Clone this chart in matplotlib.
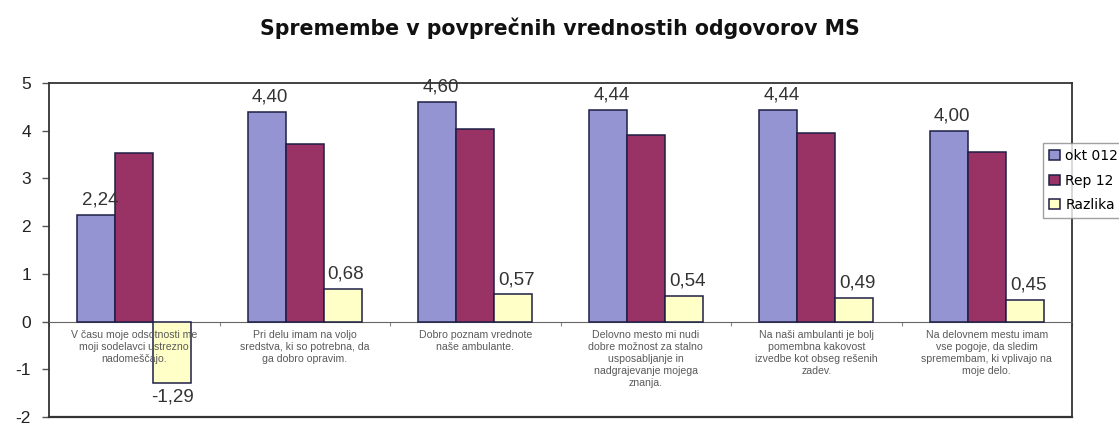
import matplotlib
matplotlib.use("Agg")
import matplotlib.pyplot as plt
import numpy as np

categories = [
    "V času moje odsotnosti me\nmoji sodelavci ustrezno\nnadomeščajo.",
    "Pri delu imam na voljo\nsredstva, ki so potrebna, da\nga dobro opravim.",
    "Dobro poznam vrednote\nnaše ambulante.",
    "Delovno mesto mi nudi\ndobre možnost za stalno\nusposabljanje in\nnadgrajevanje mojega\nznanja.",
    "Na naši ambulanti je bolj\npomembna kakovost\nizvedbe kot obseg rešenih\nzadev.",
    "Na delovnem mestu imam\nvse pogoje, da sledim\nspremembam, ki vplivajo na\nmoje delo.",
]
series_names = ["okt 012", "Rep 12", "Razlika"]
okt = [2.24, 4.40, 4.60, 4.44, 4.44, 4.00]
rep = [3.53, 3.72, 4.03, 3.90, 3.95, 3.55]
razlika = [-1.29, 0.68, 0.57, 0.54, 0.49, 0.45]
y_ticks = [-2, -1, 0, 1, 2, 3, 4, 5]

colors = ["#9494d2", "#993366", "#ffffc8"]
edge = "#1e1e46"

plt.rcParams["font.family"] = ["Liberation Sans", "DejaVu Sans"]
plt.rcParams["axes.unicode_minus"] = False

fig = plt.figure(figsize=(11.19, 4.24), dpi=100)
ax = fig.add_axes([49 / 1119, 7 / 424, (1072 - 49) / 1119, (417 - 83) / 424])

x = np.arange(len(categories))
w = 1 / 4.5
data = [okt, rep, razlika]
bars = []
for k, (vals, c) in enumerate(zip(data, colors)):
    b = ax.bar(x + (k - 1) * w, vals, width=w, color=c, edgecolor=edge,
               linewidth=1.1, label=series_names[k], zorder=3)
    bars.append(b)

def fmt(v):
    return f"{v:.2f}".replace(".", ",")

# value labels for the first and the difference series
for k in (0, 2):
    for rect, v in zip(bars[k], data[k]):
        cx = rect.get_x() + rect.get_width() / 2
        if v >= 0:
            ax.text(cx + 0.02, v + 0.13, fmt(v), ha="center", va="bottom",
                    fontsize=13.5, color="#333333", zorder=5)
        else:
            ax.text(cx, v - 0.12, fmt(v), ha="center", va="top",
                    fontsize=13.5, color="#333333", zorder=5)

# category labels just under the zero line
for i, lab in enumerate(categories):
    ax.text(i, -0.17, lab, ha="center", va="top", fontsize=7.6,
            color="#5a5a5a", linespacing=1.25, zorder=4)

ax.set_xlim(-0.5, len(categories) - 0.5)
ax.set_ylim(-2, 5)
ax.set_yticks(y_ticks)
ax.tick_params(axis="y", labelsize=12.5, length=5, width=1, color="#555555",
               labelcolor="#222222", pad=8)

# category axis sits on zero, with ticks between groups
ax.spines["bottom"].set_position(("data", 0))
ax.spines["bottom"].set_color("#666666")
ax.set_xticks(np.arange(len(categories) + 1) - 0.5)
ax.set_xticklabels([])
ax.tick_params(axis="x", length=3, color="#888888", direction="out")
for s in ("top", "right", "left"):
    ax.spines[s].set_color("#333333")
    ax.spines[s].set_linewidth(1.3)
ax.axhline(-2, color="#333333", linewidth=1.6, clip_on=False, zorder=6)

fig.text(0.5, 1 - 28 / 424, "Spremembe v povprečnih vrednostih odgovorov MS",
         ha="center", va="center", fontsize=14.8, fontweight="bold",
         family="DejaVu Sans", color="#111111")

leg = fig.legend(loc="upper left", bbox_to_anchor=(1043 / 1119, 1 - 143 / 424),
                 prop={"family": "DejaVu Sans", "size": 10},
                 frameon=True, fancybox=False, handlelength=0.75,
                 handleheight=0.75, handletextpad=0.4, borderpad=0.45,
                 labelspacing=0.75, borderaxespad=0)
leg.get_frame().set_edgecolor("#888888")
leg.get_frame().set_linewidth(1.0)

fig.savefig("out.png", dpi=100)
